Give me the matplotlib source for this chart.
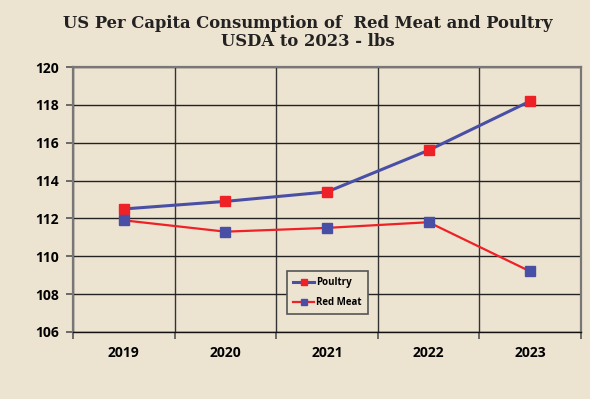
import numpy as np
import matplotlib
matplotlib.use('Agg')
import matplotlib.pyplot as plt
from matplotlib.ticker import FixedLocator

# data
years = ['2019', '2020', '2021', '2022', '2023']
poultry = [112.5, 112.9, 113.4, 115.6, 118.2]
red_meat = [111.9, 111.3, 111.5, 111.8, 109.2]

bg = '#ede3d1'
blue = '#4a4fa6'
red = '#ee2127'

fig = plt.figure(figsize=(5.9, 3.99), dpi=100)
fig.patch.set_facecolor(bg)
ax = fig.add_axes([0.1237, 0.168, 0.861, 0.664])
ax.set_facecolor(bg)

x = np.arange(len(years))
ax.plot(x, poultry, color=blue, lw=2.2, marker='s', ms=7.5,
        mfc=red, mec=red, label='Poultry', zorder=3)
ax.plot(x, red_meat, color=red, lw=1.6, marker='s', ms=7.5,
        mfc=blue, mec=blue, label='Red Meat', zorder=3)

ax.set_xlim(-0.5, len(years) - 0.5)
ax.set_ylim(106, 120)
ax.set_yticks(np.arange(106, 121, 2))
ax.set_xticks(x)
ax.set_xticklabels(years)
ax.xaxis.set_minor_locator(FixedLocator(np.arange(-0.5, len(years), 1)))

ax.grid(axis='y', color='#222222', lw=1.0)
ax.grid(axis='x', which='minor', color='#333333', lw=1.0)
ax.set_axisbelow(True)

for s in ['top', 'right', 'left']:
    ax.spines[s].set_color('#777777')
    ax.spines[s].set_linewidth(1.6)
ax.spines['bottom'].set_color('#111111')
ax.spines['bottom'].set_linewidth(1.0)

ax.tick_params(axis='x', which='major', length=0, pad=10)
ax.tick_params(axis='x', which='minor', length=5, color='#555555', width=1.2)
ax.tick_params(axis='y', length=5, color='#555555', width=1.2, pad=5)
for lab in ax.get_xticklabels() + ax.get_yticklabels():
    lab.set_fontfamily('Open Sans')
    lab.set_fontweight('bold')
    lab.set_fontsize(10)

leg = ax.legend(loc='lower left', bbox_to_anchor=(0.412, 0.05),
                prop={'family': 'Open Sans', 'weight': 'bold', 'size': 7},
                handlelength=2.2, handletextpad=0.2, borderpad=0.6,
                labelspacing=0.9, fancybox=False, framealpha=1, markerscale=0.6)
leg.get_frame().set_facecolor(bg)
leg.get_frame().set_edgecolor('#555555')
leg.get_frame().set_linewidth(1.2)

fig.text(0.521, 0.963, 'US Per Capita Consumption of  Red Meat and Poultry\nUSDA to 2023 - lbs',
         ha='center', va='top', fontsize=11.8, fontweight='bold',
         family='DejaVu Serif', color='#222222', linespacing=1.1)

plt.savefig('out.png', facecolor=bg)
